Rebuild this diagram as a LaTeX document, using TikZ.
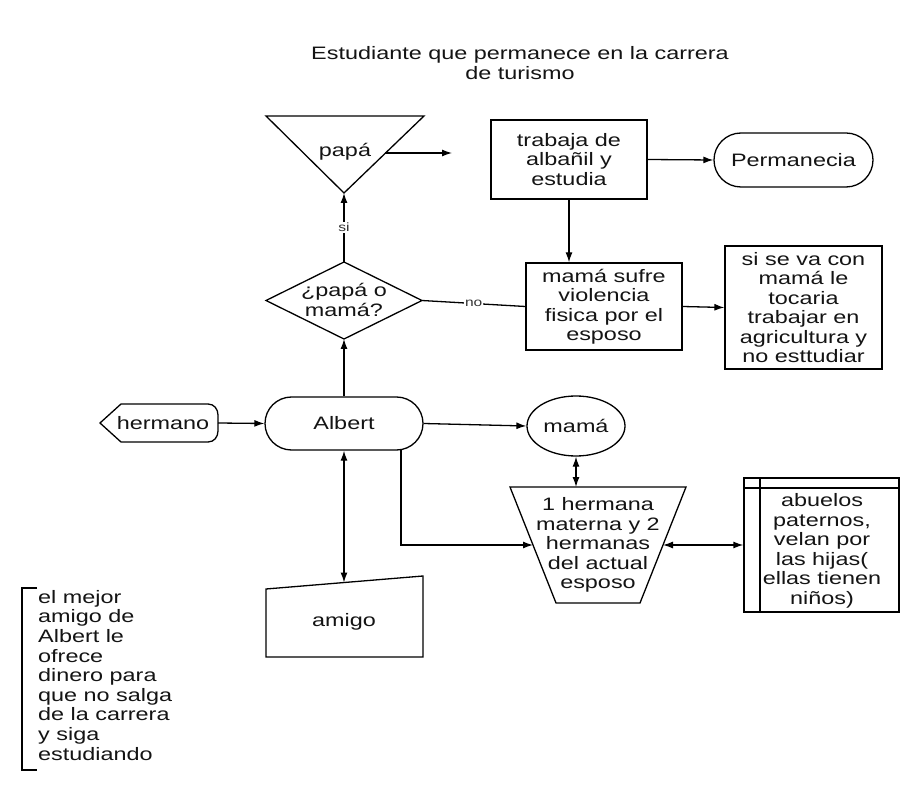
\documentclass[tikz,border=0pt]{standalone}
\usepackage{fontspec}
\setmainfont{Liberation Sans}[FakeStretch=1.3]
\usetikzlibrary{arrows.meta,shapes.geometric}
\tikzset{
  txt/.style={inner sep=0pt, align=center, font=\fontsize{18}{19.5}\selectfont, text=black!92},
  boxnode/.style={txt, draw, line width=1.3pt, minimum width=#1},
  lbl/.style={inner sep=1pt, fill=white, font=\fontsize{12}{14}\selectfont, text=black!80},
  shp/.style={draw, line width=1.3pt},
  conn/.style={line width=1.3pt},
  arr/.style={conn, -{Latex[length=10pt,width=7pt]}},
  darr/.style={conn, {Latex[length=10pt,width=7pt]}-{Latex[length=10pt,width=7pt]}}
}
\begin{document}
\begin{tikzpicture}[x=1pt,y=-1pt]
\useasboundingbox[fill=white] (0,0) rectangle (905,791);

% title
\node[txt] (title) at (520,63) {Estudiante que permanece en la carrera\\de turismo};

% triangle papá
\coordinate (triL) at (266,116);
\coordinate (triR) at (424,116);
\coordinate (triA) at (344,193);
\draw[shp] (triL) -- (triR) -- (triA) -- cycle;
\node[txt] (papa) at (345,152) {papá};
\coordinate (triE) at (385,153);
\coordinate (papaEnd) at (452,153);

% trabaja box
\node[boxnode=156pt, minimum height=79pt] (trab) at (569,159.5) {trabaja de\\albañil y\\estudia};
% Permanecia
\node[txt, draw, line width=1.3pt, rounded corners=27pt, minimum width=159pt, minimum height=54pt] (perm) at (793.5,160) {Permanecia};

% diamond
\coordinate (diaT) at (344,262);
\coordinate (diaB) at (344,339);
\coordinate (diaL) at (266,300.5);
\coordinate (diaR) at (422,300.5);
\draw[shp] (diaT) -- (diaR) -- (diaB) -- (diaL) -- cycle;
\node[txt] (dia) at (344,300) {¿papá o\\mamá?};

% mamá sufre
\node[boxnode=156pt, minimum height=87pt] (sufre) at (604,306.5) {mamá sufre\\violencia\\fisica por el\\esposo};
% si se va con
\node[boxnode=157pt, minimum height=123pt] (sisiva) at (803.5,307.5) {si se va con\\mamá le\\tocaria\\trabajar en\\agricultura y\\no esttudiar};

% hermano (display shape)
\draw[shp] (100,423) -- (121,404) -- (208,404) .. controls (214,404) and (218,409) .. (218,415)
  -- (218,431) .. controls (218,437) and (214,442) .. (208,442) -- (121,442) -- cycle;
\node[txt] (her) at (163,423) {hermano};
\coordinate (herE) at (218,423);

% Albert
\node[txt, draw, line width=1.3pt, rounded corners=26.5pt, minimum width=158pt, minimum height=53pt] (alb) at (344,423.5) {Albert};
\coordinate (albD) at (401,450);

% mamá ellipse
\node[txt, draw, line width=1.3pt, ellipse, minimum width=98pt, minimum height=60pt] (mama) at (576,426) {mamá};

% trapezoid
\coordinate (trTL) at (510,487);
\coordinate (trTR) at (686,487);
\coordinate (trBR) at (640,603);
\coordinate (trBL) at (556,603);
\draw[shp] (trTL) -- (trTR) -- (trBR) -- (trBL) -- cycle;
\node[txt] (herm) at (598,545) {1 hermana\\materna y 2\\hermanas\\del actual\\esposo};
\coordinate (trL) at (533,545);
\coordinate (trR) at (663,545);

% abuelos (internal storage)
\node[draw, line width=1.3pt, minimum width=155pt, minimum height=134pt, inner sep=0pt] (abu) at (821.5,545) {};
\draw[conn] (760,478) -- (760,612);
\draw[conn] (744,488) -- (899,488);
\node[txt] (abutxt) at (822,551) {abuelos\\paternos,\\velan por\\las hijas(\\ellas tienen\\niños)};

% amigo (manual input)
\draw[shp] (266,589) -- (423,576) -- (423,657) -- (266,657) -- cycle;
\node[txt] (amigo) at (344,622) {amigo};
\coordinate (amT) at (344,582.5);

% annotation
\draw[conn] (37,588) -- (22,588) -- (22,770) -- (37,770);
\node[txt, align=left, anchor=north west, font=\fontsize{18}{19.6}\selectfont] (nota) at (38,590)
  {el mejor\\amigo de\\Albert le\\ofrece\\dinero para\\que no salga\\de la carrera\\y siga\\estudiando};

% connectors
\draw[arr] (diaT) -- node[lbl] {si} (triA);
\draw[arr] (triE) -- (papaEnd);
\draw[arr] (trab.east) -- (perm.west);
\draw[arr] (trab.south) -- (trab.south |- sufre.north);
\draw[conn] (diaR) -- node[lbl, pos=0.5] {no} (sufre.west);
\draw[arr] (sufre.east) -- (sisiva.west);
\draw[arr] (alb.north) -- (diaB);
\draw[arr] (herE) -- (alb.west);
\draw[arr] (alb.east) -- (mama.west);
\draw[darr] (mama.south) -- (mama.south |- trTL);
\draw[arr] (albD) |- (trL);
\draw[darr] (trR) -- (abu.west);
\draw[darr] (alb.south) -- (amT);
\end{tikzpicture}
\end{document}
